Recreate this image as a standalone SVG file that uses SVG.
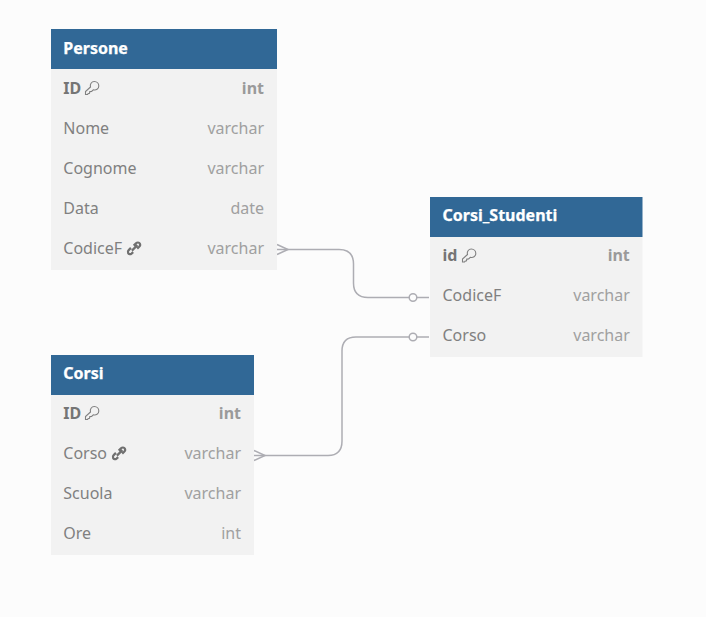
<svg xmlns="http://www.w3.org/2000/svg" width="706" height="617" viewBox="0 0 706 617">
<style>
text{font-family:"Noto Sans","Open Sans",sans-serif;font-size:16px}
.h{fill:#316896}.b{fill:#f2f2f2}
.t{fill:#fff;font-weight:700;stroke:#fff;stroke-width:.25}
.n{fill:#808080}.ty{fill:#a0a0a0;text-anchor:end}
.k{font-weight:700;fill:#757575}.kt{font-weight:700;fill:#9a9a9a;text-anchor:end}
.c{fill:none;stroke:#adadb3;stroke-width:1.5}
.o{fill:#fcfcfc;stroke:#adadb3;stroke-width:1.5}
.ic{fill:none;stroke:#808080;stroke-width:1.1}
.il{fill:none;stroke:#707070;stroke-width:2.2}
</style>
<defs>
<g id="key"><path class="ic" d="M-6.500 6.500L-6.500 3.500L-1.500 -1C-2.300 -3.800 -0.500 -6.500 2.300 -6.500C5 -6.500 6.800 -4.400 6.800 -2C6.800 0.900 4 2.600 1.300 1.800L-0.400 3.500L-2.200 3.600L-2.500 5.400L-4 5.700L-4.400 6.500Z"/></g>
<g id="link"><path class="il" d="M-0.500 -2L1.800 -4.300C3 -5.500 4.900 -5.300 5.600 -4.100C6.200 -3 6 -1.800 5 -0.900L3 1M-1 4.500L-2.700 6C-3.900 7 -5.500 6.700 -6.100 5.400C-6.600 4.400 -6.300 3.300 -5.500 2.500L-3.300 0.300M-2.300 3L3.200 -2.500" transform="translate(.2 -.4)"/></g>
</defs>
<rect width="706" height="617" fill="#fcfcfc"/>
<g id="connectors">
<path class="c" d="M277 249.500H339Q353.500 249.500 353.500 264V283Q353.500 297.500 368 297.500H429"/>
<path class="c" d="M277 244.500L288 249.500L277 254.500"/>
<circle class="o" cx="413" cy="297.500" r="3.800"/>
<path class="c" d="M254 455.500H328Q342 455.500 342 441V351Q342 337 356 337H429"/>
<path class="c" d="M254 450.500L265 455.500L254 460.500"/>
<circle class="o" cx="413" cy="337" r="3.800"/>
</g>
<g id="persone">
<rect class="b" x="51" y="69" width="226" height="201"/>
<rect class="h" x="51" y="29" width="226" height="40"/>
<text class="t" x="63.300" y="53.500">Persone</text>
<text class="k" x="63.300" y="93.500">ID</text><use href="#key" x="92" y="88"/><text class="kt" x="264" y="93.500">int</text>
<text class="n" x="63.300" y="133.500">Nome</text><text class="ty" x="264" y="133.500">varchar</text>
<text class="n" x="63.300" y="173.500">Cognome</text><text class="ty" x="264" y="173.500">varchar</text>
<text class="n" x="63.300" y="213.500">Data</text><text class="ty" x="264" y="213.500">date</text>
<text class="n" x="63.300" y="253.500">CodiceF</text><use href="#link" x="134" y="248"/><text class="ty" x="264" y="253.500">varchar</text>
</g>
<g id="corsi">
<rect class="b" x="51" y="395" width="203" height="160"/>
<rect class="h" x="51" y="355" width="203" height="40"/>
<text class="t" x="63.300" y="379">Corsi</text>
<text class="k" x="63.300" y="419">ID</text><use href="#key" x="92" y="413"/><text class="kt" x="241" y="419">int</text>
<text class="n" x="63.300" y="459">Corso</text><use href="#link" x="119" y="453"/><text class="ty" x="241" y="459">varchar</text>
<text class="n" x="63.300" y="499">Scuola</text><text class="ty" x="241" y="499">varchar</text>
<text class="n" x="63.300" y="539">Ore</text><text class="ty" x="241" y="539">int</text>
</g>
<g id="corsi_studenti">
<rect class="b" x="430" y="237" width="212.500" height="120"/>
<rect class="h" x="430" y="197" width="212.500" height="40"/>
<text class="t" x="442.500" y="221">Corsi_Studenti</text>
<text class="k" x="442.500" y="261">id</text><use href="#key" x="469" y="255.500"/><text class="kt" x="629.800" y="261">int</text>
<text class="n" x="442.500" y="301">CodiceF</text><text class="ty" x="629.800" y="301">varchar</text>
<text class="n" x="442.500" y="341">Corso</text><text class="ty" x="629.800" y="341">varchar</text>
</g>
</svg>
